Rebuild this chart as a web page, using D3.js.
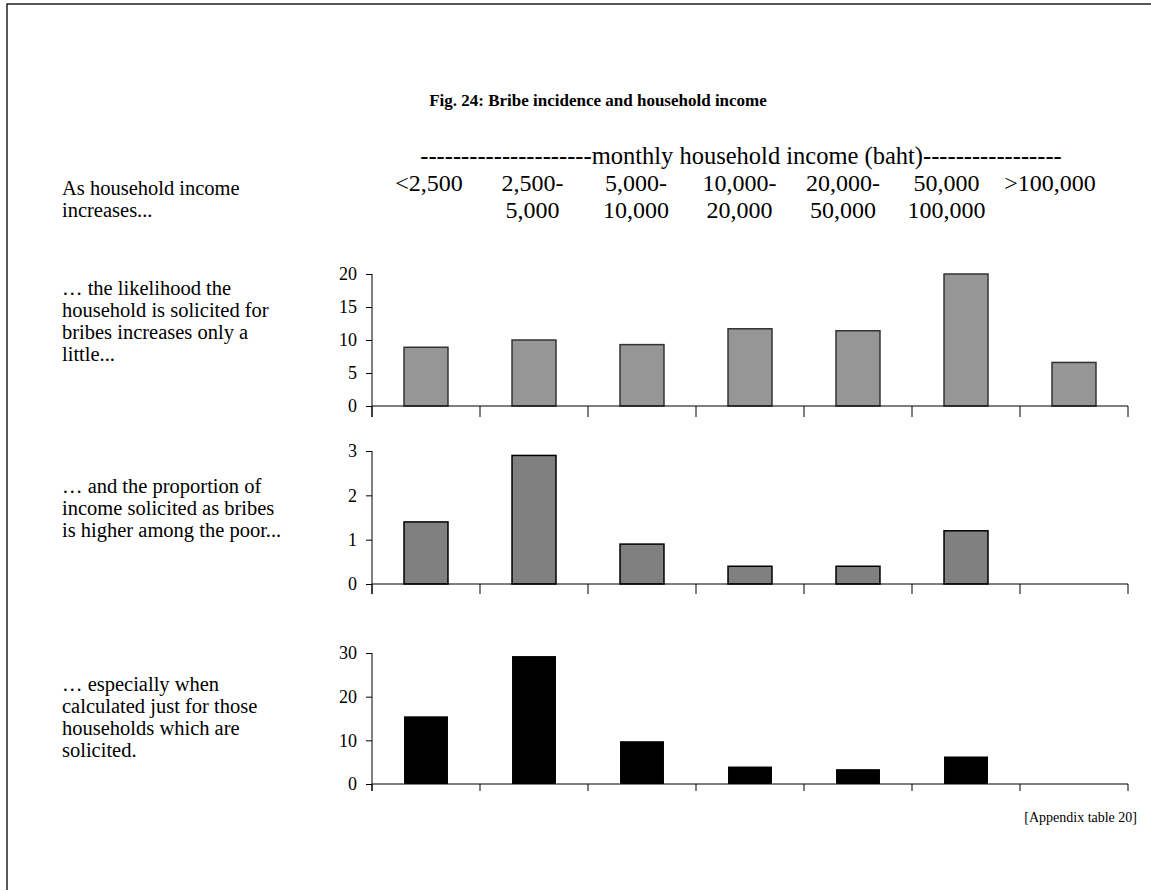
<!DOCTYPE html>
<html><head><meta charset="utf-8">
<script src="https://cdn.jsdelivr.net/npm/d3@7"></script>
<style>body{margin:0;background:#fff}svg{display:block}text{font-family:"Liberation Serif","Times New Roman",serif;fill:#000}</style>
</head><body><svg id="c" width="1151" height="890"></svg>
<script>
const categories = ["<2,500","2,500-5,000","5,000-10,000","10,000-20,000","20,000-50,000","50,000-100,000",">100,000"];
const headerLine1 = ["<2,500","2,500-","5,000-","10,000-","20,000-","50,000",">100,000"];
const headerLine2 = ["","5,000","10,000","20,000","50,000","100,000",""];
const solicitedPct = [8.9, 10.0, 9.3, 11.7, 11.4, 20.0, 6.6];
const incomeShareAll = [1.4, 2.9, 0.9, 0.4, 0.4, 1.2, 0];
const incomeShareSolicited = [15.5, 29.3, 9.8, 4.0, 3.4, 6.3, 0];
const ticks1 = [0,5,10,15,20];
const ticks2 = [0,1,2,3];
const ticks3 = [0,10,20,30];
const title = "Fig. 24: Bribe incidence and household income";
const headerTitle = "---------------------monthly household income (baht)-----------------";
const note0 = ["As household income","increases..."];
const note1 = ["\u2026 the likelihood the","household is solicited for","bribes increases only a","little..."];
const note2 = ["\u2026 and the proportion of","income solicited as bribes","is higher among the poor..."];
const note3 = ["\u2026 especially when","calculated just for those","households which are","solicited."];
const source = "[Appendix table 20]";

const svg = d3.select("#c");
svg.append("rect").attr("x",7).attr("y",4).attr("width",1170).attr("height",900)
  .attr("fill","none").attr("stroke","#000").attr("stroke-width",1.3);

svg.append("text").attr("x",598).attr("y",106).attr("text-anchor","middle")
  .attr("font-size",17).attr("font-weight","bold").text(title);

const hx = d3.scalePoint().domain(categories).range([429,1050]);
svg.append("text").attr("x",741).attr("y",164).attr("text-anchor","middle").attr("font-size",24.5).text(headerTitle);
svg.selectAll(".h1").data(categories).join("text").attr("x",d=>hx(d)).attr("y",191)
  .attr("text-anchor","middle").attr("font-size",24).text((d,i)=>headerLine1[i]);
svg.selectAll(".h2").data(categories).join("text").attr("x",d=>hx(d)).attr("y",218)
  .attr("text-anchor","middle").attr("font-size",24).text((d,i)=>headerLine2[i]);

function note(lines, y0){
  svg.append("g").selectAll("text").data(lines).join("text")
    .attr("x",62).attr("y",(d,i)=>y0+i*22).attr("font-size",20.5).text(d=>d);
}
note(note0,195); note(note1,295); note(note2,493); note(note3,691);

const x = d3.scaleBand().domain(categories).range([372,1128]).padding(0);
const barW = x.bandwidth()*0.407;

function panel(values, ticks, yBottom, yTop, fill, stroke, tickDown){
  const y = d3.scaleLinear().domain([0, ticks[ticks.length-1]]).range([yBottom, yTop]);
  const g = svg.append("g");
  g.selectAll("rect").data(values).join("rect")
    .attr("x",(d,i)=>x(categories[i]) + (x.bandwidth()-barW)/2)
    .attr("y",d=>y(d)).attr("width",barW).attr("height",d=>y(0)-y(d))
    .attr("fill",fill).attr("stroke",stroke).attr("stroke-width",stroke==="none"?0:1.5);
  const ya = d3.axisLeft(y).tickValues(ticks).tickSize(6).tickPadding(9).tickFormat(d3.format("d"));
  const ag = g.append("g").attr("transform","translate(372,0)").call(ya);
  ag.select(".domain").remove();
  ag.selectAll("line").attr("stroke","#000");
  ag.selectAll("text").attr("font-size",18).attr("font-family","Liberation Serif");
  g.append("line").attr("x1",372).attr("x2",372).attr("y1",yTop).attr("y2",yBottom+tickDown).attr("stroke","#000");
  g.append("line").attr("x1",372).attr("x2",1128).attr("y1",yBottom).attr("y2",yBottom).attr("stroke","#000");
  const edges = categories.map(c=>x(c)).concat([x.range()[1]]);
  g.selectAll(".edge").data(edges).join("line").attr("x1",d=>d).attr("x2",d=>d)
    .attr("y1",yBottom).attr("y2",yBottom+tickDown).attr("stroke","#000");
}
panel(solicitedPct, ticks1, 406, 274, "#969696", "#333", 11);
panel(incomeShareAll, ticks2, 584, 451, "#808080", "#000", 10);
panel(incomeShareSolicited, ticks3, 784, 653, "#000", "none", 7);

svg.append("text").attr("x",1137).attr("y",822).attr("text-anchor","end").attr("font-size",14).text(source);
</script></body></html>
